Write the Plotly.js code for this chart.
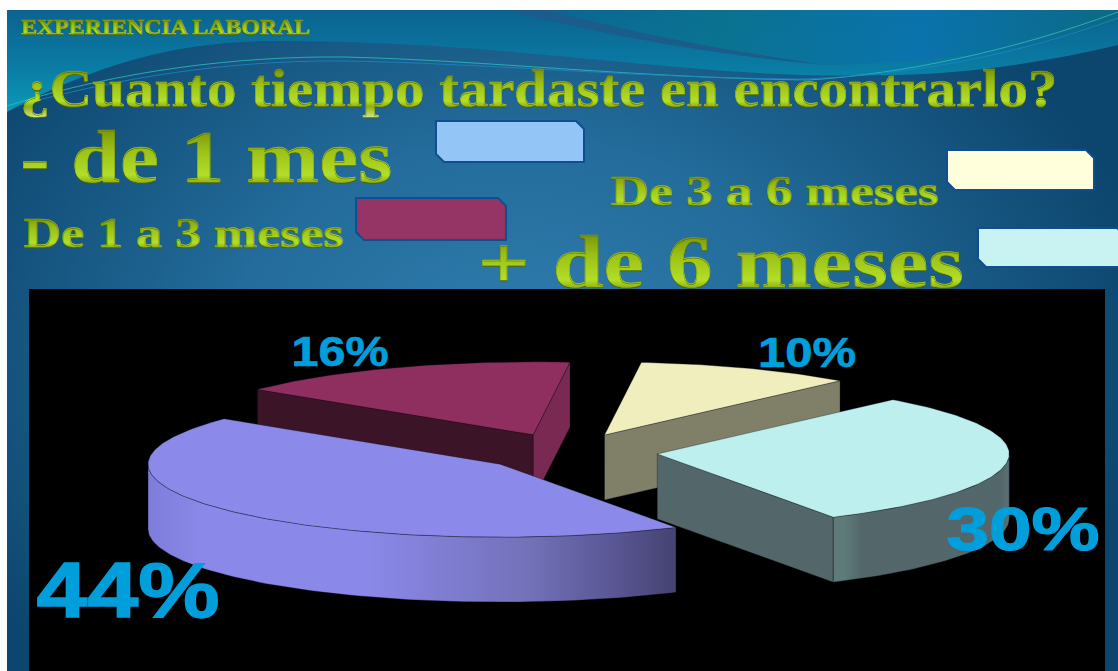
<!DOCTYPE html>
<html lang="es">
<head>
<meta charset="utf-8">
<title>Experiencia laboral</title>
<script src="https://cdn.plot.ly/plotly-3.0.1.min.js"></script>
<style>
  html, body { margin: 0; padding: 0; background: #fff; overflow: hidden; }
  #stage { position: relative; width: 1118px; height: 671px; }
  #waves, #chart { position: absolute; left: 0; top: 0; }
</style>
</head>
<body>
<div id="stage">
  <!-- slide backdrop: blue body with the teal swoosh along the top -->
  <svg id="waves" width="1118" height="671" viewBox="0 0 1118 671">
    <defs>
      <radialGradient id="body" gradientUnits="userSpaceOnUse" cx="520" cy="330" r="640" gradientTransform="translate(0 110) scale(1 .72)">
        <stop offset="0" stop-color="#2f7dad"/>
        <stop offset=".45" stop-color="#236c9b"/>
        <stop offset="1" stop-color="#0c456d"/>
      </radialGradient>
      <linearGradient id="band" x1="0" y1="0" x2="0" y2="1">
        <stop offset="0" stop-color="#0b6390"/>
        <stop offset=".55" stop-color="#0a7ba3"/>
        <stop offset="1" stop-color="#0a9ab8"/>
      </linearGradient>
      <linearGradient id="sky" x1="0" y1="0" x2="1" y2="0">
        <stop offset="0" stop-color="#0b6d94" stop-opacity="0"/>
        <stop offset=".35" stop-color="#0a7390" stop-opacity=".9"/>
        <stop offset=".68" stop-color="#0a73ad" stop-opacity=".95"/>
        <stop offset="1" stop-color="#0c6a85" stop-opacity=".95"/>
      </linearGradient>
      <!-- bevelled olive-to-lime lettering -->
      <linearGradient id="wordart" x1="0" y1="0" x2="0" y2="1">
        <stop offset=".12" stop-color="#76900a"/>
        <stop offset=".42" stop-color="#9cc016"/>
        <stop offset=".72" stop-color="#b2de28"/>
        <stop offset=".82" stop-color="#8fae12"/>
        <stop offset="1" stop-color="#d0e67c"/>
      </linearGradient>
    </defs>
    <rect x="7" y="10" width="1111" height="661" fill="url(#body)"/>
    <path fill="url(#band)" d="M7,10 L1118,10 L1118,45 C1030,66 950,75 880,75 C780,78 690,68 600,60 C510,52 420,41 268,41 C180,42 100,62 7,112 Z"/>
    <path fill="url(#sky)" d="M505,10 L1118,10 L1118,22 C1040,48 950,62 827,65 C720,55 620,35 505,10 Z"/>
    <path fill="#1b5c8a" d="M505,10 C610,36 720,56 827,65 C720,50 630,32 547,10 Z"/>
    <path fill="none" stroke="#2fc0b8" stroke-width=".8" d="M7,106 C120,70 240,56 344,57 C480,60 640,78 809,80 C900,74 1010,52 1118,12"/>
    <path fill="none" stroke="#1a86c8" stroke-width=".8" d="M20,105 C140,72 250,60 344,61 C480,63 640,78 800,79 C900,76 1010,58 1118,18"/>
  </svg>
  <div id="chart"></div>
</div>
<script>
// Survey answers: time taken to find a job
const categories = ['- de 1 mes', 'De 1 a 3 meses', 'De 3 a 6 meses', '+ de 6 meses'];
const values = [44, 16, 10, 30];

// Slice appearance, one entry per category
const topColors = ['#8b8aeb', '#8f2f5f', '#efeebc', '#bcefed'];
const startFaceColors = ['#5f5c9c', '#3c1427', '#808069', '#53676a'];
const endFaceColors = ['#5f5c9c', '#7a2a52', '#808069', '#53676a'];
const rimScales = [
  [[0, '#7f7dda'], [0.1, '#8a88e8'], [0.42, '#8a88e8'], [0.72, '#7371b8'], [0.86, '#5d5a9a'], [1, '#454371']],
  [[0, '#7a2a52'], [1, '#7a2a52']],
  [[0, '#808069'], [1, '#808069']],
  [[0, '#5f7b79'], [0.06, '#5f7b79'], [0.16, '#53676a'], [0.95, '#53676a'], [1, '#5a7072']]
];
const swatchColors = ['#93c5f7', '#953565', '#ffffdc', '#c9f2f2'];
const drawOrder = [1, 2, 3, 0];

// Pie construction, in radius units
const firstSliceAngle = 150;
const explosion = 0.255;
const thickness = 0.89;

const W = 1118, H = 671;
const px = x => x / W;
const py = y => 1 - y / H;

const rad = d => d * Math.PI / 180;
const rim = d => [Math.sin(rad(d)), Math.cos(rad(d))];

function arcPoints(from, to) {
  const pts = [];
  for (let a = from; a < to; a += 1) pts.push(rim(a));
  pts.push(rim(to));
  return pts;
}

function polyTrace(points, fill) {
  const trace = {
    type: 'scatter', mode: 'lines', fill: 'toself',
    x: points.map(p => p[0]), y: points.map(p => p[1]),
    line: { color: 'rgba(10,10,20,0.55)', width: 0.6 },
    hoverinfo: 'skip', showlegend: false
  };
  if (Array.isArray(fill)) trace.fillgradient = { type: 'horizontal', colorscale: fill };
  else trace.fillcolor = fill;
  return trace;
}

// Side wall hanging under a run of top-face points
function wall(points, fill) {
  const lower = points.slice().reverse().map(p => [p[0], p[1] - thickness]);
  return polyTrace(points.concat(lower, [points[0]]), fill);
}

// Angular spans from the values, clockwise from twelve o'clock
let cursor = firstSliceAngle;
const spans = values.map(v => {
  const s = [cursor, cursor + v * 3.6];
  cursor = s[1];
  return s;
});

const traces = [];
drawOrder.forEach(i => {
  const [a0, a1] = spans[i];
  const mid = (a0 + a1) / 2;
  const c = rim(mid).map(k => k * explosion);
  const shift = p => [p[0] + c[0], p[1] + c[1]];
  const apex = c;
  const s = shift(rim(a0));
  const e = shift(rim(a1));

  // radial cuts face the viewer when the edge runs leftwards on screen
  if (s[0] < apex[0]) traces.push(wall([apex, s], startFaceColors[i]));
  if (e[0] > apex[0]) traces.push(wall([e, apex], endFaceColors[i]));

  // the outer wall shows between three and nine o'clock
  [[90, 270], [450, 630]].forEach(([lo, hi]) => {
    const from = Math.max(a0, lo), to = Math.min(a1, hi);
    if (to > from) traces.push(wall(arcPoints(from, to).map(shift), rimScales[i]));
  });

  const top = [apex].concat(arcPoints(a0, a1).map(shift), [apex]);
  traces.push(polyTrace(top, topColors[i]));
});

// Cut-corner legend chips
const chipBoxes = [[436, 121, 584, 162], [356, 198, 506, 240], [947, 150, 1094, 190], [978, 228, 1125, 267]];
const chipShapes = chipBoxes.map((b, i) => {
  const [l, t, r, bt] = b, n = 8;
  const path = [[l, t], [r - n, t], [r, t + n], [r, bt], [l + n, bt], [l, bt - n]]
    .map((p, k) => (k ? 'L' : 'M') + px(p[0]).toFixed(5) + ',' + py(p[1]).toFixed(5)).join(' ') + ' Z';
  return {
    type: 'path', xref: 'paper', yref: 'paper', path, layer: 'above',
    fillcolor: swatchColors[i], line: { color: '#0f4f91', width: 2 }
  };
});

// Heading and legend wording, each set to a fixed run width
const headings = [
  { text: 'EXPERIENCIA LABORAL', left: 21, right: 310, y: 27, size: 21 },
  { text: '¿Cuanto tiempo tardaste en encontrarlo?', left: 20, right: 1057, y: 88, size: 52 },
  { text: categories[0], left: 20, right: 392, y: 157, size: 74 },
  { text: categories[1], left: 23, right: 343, y: 232, size: 43 },
  { text: categories[2], left: 610, right: 938, y: 190, size: 43 },
  { text: categories[3], left: 478, right: 964, y: 262, size: 74 }
];
const headingNotes = headings.map(h => ({
  xref: 'paper', yref: 'paper', x: px((h.left + h.right) / 2), y: py(h.y), xanchor: 'center', yanchor: 'middle',
  showarrow: false, text: h.text, borderpad: 0,
  font: { family: '"Liberation Serif", serif', weight: 700, size: h.size, color: '#a0c51c', shadow: '0 1px 0 #4f6300' }
}));

// Percentage labels, built from the values
const labelCentres = [[128, 590], [340, 351], [807, 352], [1023, 528]];
const labelSizes = [77, 43, 43, 62];
const labelWidths = [183, 97, 98, 153];
const labelStrokes = [1.4, 0.7, 0.7, 1.2];
const labelNotes = values.map((v, i) => ({
  xref: 'paper', yref: 'paper', x: px(labelCentres[i][0]), y: py(labelCentres[i][1]),
  xanchor: 'center', yanchor: 'middle', showarrow: false, text: v + '%',
  font: { family: '"Liberation Sans", sans-serif', weight: 700, size: labelSizes[i], color: '#009fdb' }
}));

const layout = {
  width: W, height: H,
  margin: { l: 0, r: 0, t: 0, b: 0, pad: 0 },
  paper_bgcolor: 'rgba(0,0,0,0)',
  plot_bgcolor: '#000',
  showlegend: false,
  hovermode: false,
  xaxis: { visible: false, domain: [29 / W, 1105 / W], range: [(29 - 568) / 352, (1105 - 568) / 352], fixedrange: true },
  yaxis: { visible: false, domain: [0, 382 / H], range: [(452 - 671) / 73, (452 - 289) / 73], fixedrange: true },
  shapes: chipShapes,
  annotations: headingNotes.concat(labelNotes)
};

Plotly.newPlot('chart', traces, layout, { displayModeBar: false, staticPlot: true }).then(gd => {
  // widen the lettering to its run width, then add the heading bevel and the heavier label weight
  const runWidths = headings.map(h => h.right - h.left).concat(labelWidths);
  gd.querySelectorAll('.annotation-text').forEach((el, i) => {
    el.setAttribute('textLength', runWidths[i]);
    el.setAttribute('lengthAdjust', 'spacingAndGlyphs');
    if (i < headings.length) {
      el.style.fill = 'url(#wordart)';
      el.style.stroke = 'url(#wordart)';
      el.style.strokeWidth = '0.5px';
    } else {
      el.style.stroke = '#009fdb';
      el.style.strokeWidth = labelStrokes[i - headings.length] + 'px';
    }
  });
});
</script>
</body>
</html>
